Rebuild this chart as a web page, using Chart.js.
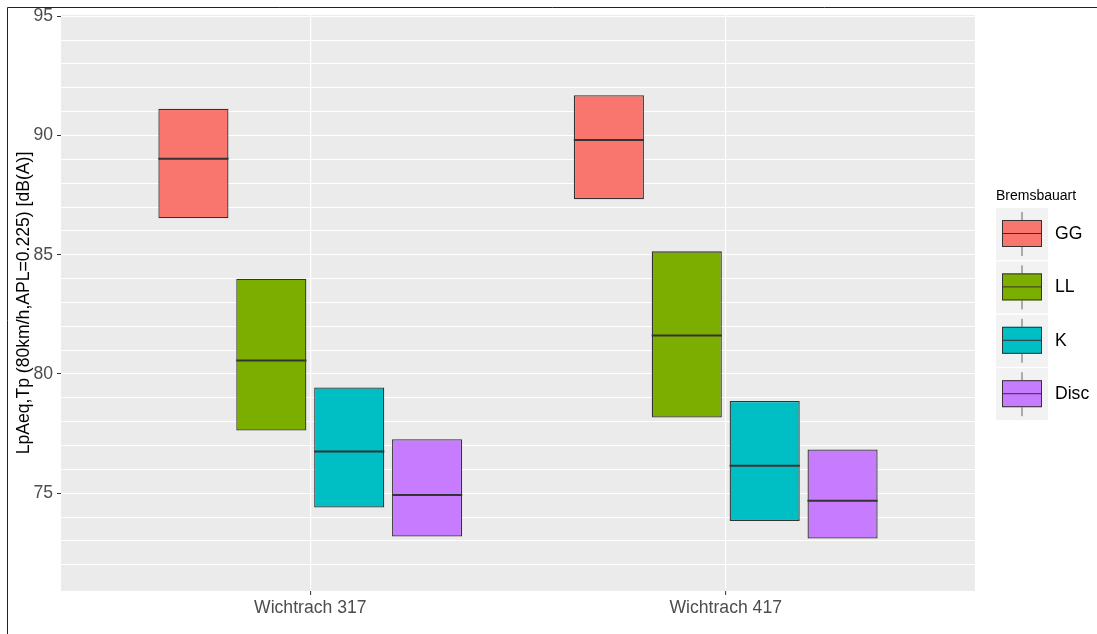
<!DOCTYPE html>
<html>
<head>
<meta charset="utf-8">
<script src="https://cdn.jsdelivr.net/npm/chart.js@4/dist/chart.umd.min.js"></script>
<style>
  html, body { margin: 0; padding: 0; background: #ffffff; }
  canvas { display: block; }
</style>
</head>
<body>
<canvas id="chart" width="1097" height="634"></canvas>
<script>
// Measurement sites (x categories)
const sites = ['Wichtrach 317', 'Wichtrach 417'];

// Brake types (legend entries)
const brakeTypes = ['GG', 'LL', 'K', 'Disc'];

// Lower quartile, median and upper quartile per brake type, one value per site
const ggQ1 = [86.53, 87.32];
const ggMedian = [89.02, 89.81];
const ggQ3 = [91.12, 91.69];

const llQ1 = [77.63, 78.17];
const llMedian = [80.56, 81.61];
const llQ3 = [83.99, 85.14];

const kQ1 = [74.40, 73.84];
const kMedian = [76.75, 76.15];
const kQ3 = [79.43, 78.87];

const discQ1 = [73.18, 73.10];
const discMedian = [74.93, 74.68];
const discQ3 = [77.26, 76.83];

// Y axis: labelled breaks and the finer grid lines
const yLabelTicks = [75, 80, 85, 90, 95];
const yGridTicks = [72, 73, 74, 75, 76, 77, 78, 79, 80, 81, 82, 83, 84, 85, 86, 87, 88, 89, 90, 91, 92, 93, 94, 95];

const fillColors = ['#F8766D', '#7CAE00', '#00BFC4', '#C77CFF'];
const q1Series = [ggQ1, llQ1, kQ1, discQ1];
const medianSeries = [ggMedian, llMedian, kMedian, discMedian];
const q3Series = [ggQ3, llQ3, kQ3, discQ3];

const FONT = '"Liberation Sans", Arial, sans-serif';

const datasets = brakeTypes.map((name, s) => ({
  label: name,
  data: sites.map((_, i) => ({ x: i, y: [q1Series[s][i], q3Series[s][i]] })),
  medians: medianSeries[s],
  backgroundColor: fillColors[s],
  borderColor: '#333333',
  borderWidth: 1.3,
  borderSkipped: false,
  categoryPercentage: 0.75,
  barPercentage: 0.9
}));

// Grey panel behind the grid, white page
const panelPlugin = {
  id: 'panel',
  beforeDraw(chart) {
    const { ctx, chartArea: a } = chart;
    ctx.save();
    ctx.fillStyle = '#ffffff';
    ctx.fillRect(0, 0, chart.width, chart.height);
    ctx.fillStyle = '#EBEBEB';
    ctx.fillRect(a.left, a.top, a.right - a.left, a.bottom - a.top);
    ctx.restore();
  }
};

// Median line across each box
const medianPlugin = {
  id: 'medians',
  afterDatasetsDraw(chart) {
    const { ctx } = chart;
    const yScale = chart.scales.y;
    ctx.save();
    ctx.strokeStyle = '#333333';
    ctx.lineWidth = 2;
    chart.data.datasets.forEach((ds, di) => {
      const meta = chart.getDatasetMeta(di);
      meta.data.forEach((bar, i) => {
        const y = yScale.getPixelForValue(ds.medians[i]);
        ctx.beginPath();
        ctx.moveTo(bar.x - bar.width / 2, y);
        ctx.lineTo(bar.x + bar.width / 2, y);
        ctx.stroke();
      });
    });
    ctx.restore();
  }
};

// Boxplot-style legend on the right, plus the outer frame lines
const legendPlugin = {
  id: 'boxLegend',
  afterDraw(chart) {
    const { ctx } = chart;
    const x0 = 996, top0 = 208, rowStep = 53.4, key = 52;
    ctx.save();
    ctx.fillStyle = '#000000';
    ctx.font = '14px ' + FONT;
    ctx.textBaseline = 'alphabetic';
    ctx.textAlign = 'left';
    ctx.fillText('Bremsbauart', x0, 200);

    chart.data.datasets.forEach((ds, i) => {
      const top = top0 + i * rowStep;
      const cx = x0 + key / 2;
      ctx.fillStyle = '#F2F2F2';
      ctx.fillRect(x0, top, key, key);
      // whiskers
      ctx.strokeStyle = 'rgba(51,51,51,0.75)';
      ctx.lineWidth = 1;
      ctx.beginPath();
      ctx.moveTo(cx, top + 4); ctx.lineTo(cx, top + 12);
      ctx.moveTo(cx, top + 39); ctx.lineTo(cx, top + 48);
      ctx.stroke();
      // box
      ctx.fillStyle = ds.backgroundColor;
      ctx.fillRect(x0 + 6, top + 12, 40, 27);
      ctx.strokeStyle = '#333333';
      ctx.strokeRect(x0 + 6.5, top + 12.5, 39, 26);
      ctx.beginPath();
      ctx.moveTo(x0 + 6, top + 25.5); ctx.lineTo(x0 + 46, top + 25.5);
      ctx.stroke();
      // label
      ctx.fillStyle = '#000000';
      ctx.font = '17.6px ' + FONT;
      ctx.textBaseline = 'middle';
      ctx.fillText(ds.label, 1055, top + 26);
      ctx.textBaseline = 'alphabetic';
      ctx.font = '14px ' + FONT;
    });

    // frame
    ctx.strokeStyle = '#222222';
    ctx.lineWidth = 1;
    ctx.beginPath();
    ctx.moveTo(7.5, chart.height);
    ctx.lineTo(7.5, 7.5);
    ctx.lineTo(chart.width, 7.5);
    ctx.stroke();
    ctx.restore();
  }
};

new Chart(document.getElementById('chart'), {
  type: 'bar',
  data: { datasets },
  options: {
    responsive: false,
    animation: false,
    events: [],
    layout: { padding: { top: 15, right: 122, bottom: 0, left: 0 } },
    plugins: {
      legend: { display: false },
      tooltip: { enabled: false }
    },
    scales: {
      x: {
        type: 'linear',
        offset: false,
        min: -0.6,
        max: 1.6,
        afterBuildTicks: (scale) => { scale.ticks = sites.map((_, i) => ({ value: i })); },
        afterFit: (scale) => { scale.height = 43; },
        ticks: {
          autoSkip: false,
          maxRotation: 0,
          padding: 3,
          color: '#4D4D4D',
          font: { family: FONT, size: 17.6 },
          callback: (value, index) => sites[index]
        },
        grid: {
          offset: false,
          color: '#ffffff',
          lineWidth: 1.2,
          drawTicks: true,
          tickLength: 4,
          tickColor: '#333333',
          tickWidth: 1
        },
        border: { display: false }
      },
      y: {
        min: 70.9,
        max: 95.05,
        afterBuildTicks: (scale) => { scale.ticks = yGridTicks.map(v => ({ value: v })); },
        afterFit: (scale) => { scale.width = 61; },
        ticks: {
          autoSkip: false,
          padding: 4,
          color: '#4D4D4D',
          font: { family: FONT, size: 17.6 },
          callback: (value) => yLabelTicks.includes(value) ? String(value) : ''
        },
        grid: {
          color: '#ffffff',
          lineWidth: 1,
          drawTicks: true,
          tickLength: 4,
          tickWidth: 1,
          tickColor: (ctx) => (ctx.tick && yLabelTicks.includes(ctx.tick.value)) ? '#333333' : 'rgba(0,0,0,0)'
        },
        border: { display: false },
        title: {
          display: true,
          text: 'LpAeq,Tp (80km/h,APL=0.225) [dB(A)]',
          color: '#000000',
          font: { family: FONT, size: 17.6 },
          padding: { top: 14, bottom: 0 }
        }
      }
    }
  },
  plugins: [panelPlugin, medianPlugin, legendPlugin]
});
</script>
</body>
</html>
